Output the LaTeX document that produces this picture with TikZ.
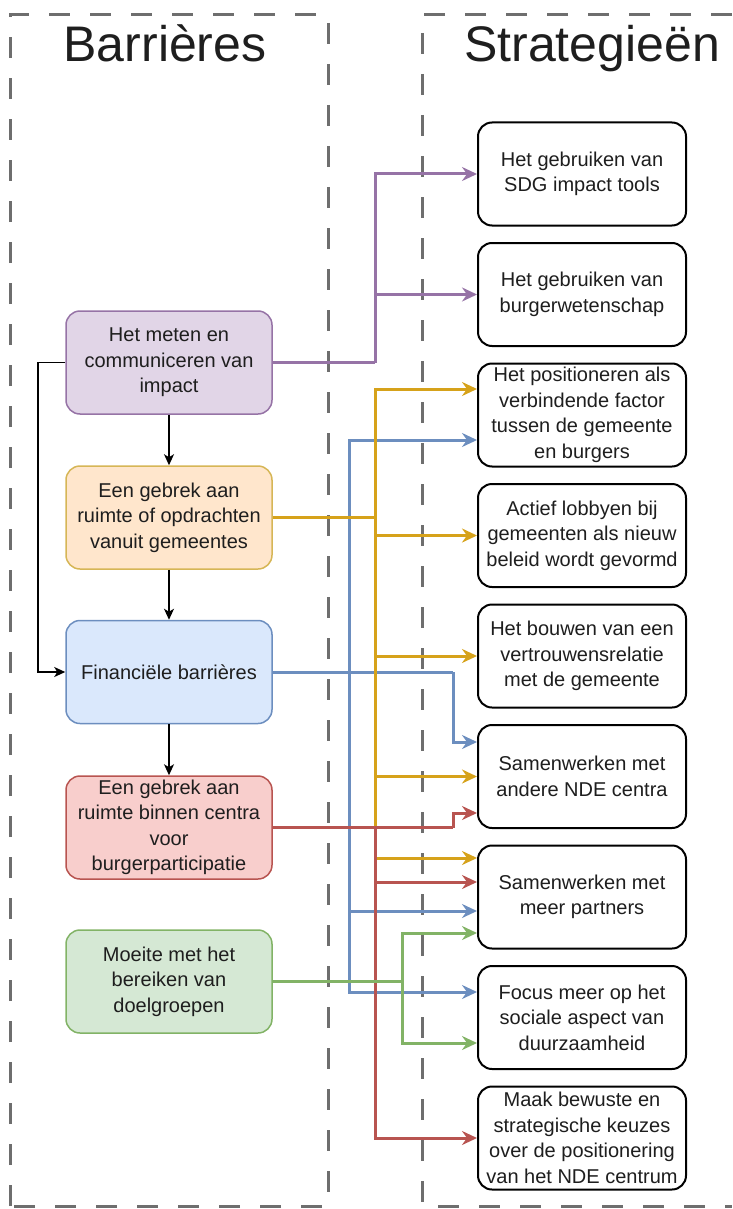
\documentclass[tikz,border=0pt]{standalone}
\usepackage{fontspec}
\setmainfont{Liberation Sans}
\usetikzlibrary{arrows.meta}

\definecolor{kadergrijs}{HTML}{6E6E6E}
\definecolor{tekst}{HTML}{1E1E1E}
\definecolor{paarsvul}{HTML}{E1D5E7}
\definecolor{paars}{HTML}{9673A6}
\definecolor{oranjevul}{HTML}{FFE6CC}
\definecolor{oranjerand}{HTML}{D6B656}
\definecolor{oranje}{HTML}{D6A21A}
\definecolor{blauwvul}{HTML}{DAE8FC}
\definecolor{blauw}{HTML}{6C8EBF}
\definecolor{roodvul}{HTML}{F8CECC}
\definecolor{rood}{HTML}{B85450}
\definecolor{groenvul}{HTML}{D5E8D4}
\definecolor{groen}{HTML}{82B366}

\begin{document}
\begin{tikzpicture}[x=1pt,y=1pt,yscale=-1,
  kader/.style={draw=kadergrijs,line width=3pt,dash pattern=on 21pt off 20pt},
  titel/.style={font=\fontsize{50}{60}\selectfont,text=tekst,anchor=base},
  barriere/.style={draw,line width=1.5pt,rounded corners=14pt,minimum width=206pt,minimum height=103pt,inner sep=0pt,align=center,font=\fontsize{20}{25.5}\selectfont,text=tekst},
  strategie/.style={barriere,draw=black,fill=white,minimum width=208pt,line width=2pt},
  pijl/.style={line width=3pt,-{Stealth[length=15pt,width=14pt,inset=5pt]}},
  lijn/.style={line width=3pt},
  zwart/.style={line width=1.5pt,-{Stealth[length=11pt,width=10pt,inset=3pt]}}
]
\useasboundingbox (0,0) rectangle (732,1209);

% kaders
\draw[kader] (10,1206) -- (10,15) -- (328,15) -- (328,1206) -- cycle;
\draw[kader] (732,15) -- (422,15) -- (422,1206) -- (732,1206);

% titels
\node[titel] (tb) at (165,62) {Barrières};
\node[titel] (ts) at (592,62) {Strategieën};

% barrieres
\node[barriere,fill=paarsvul,draw=paars] (imp) at (169,362.5) {Het meten en\\communiceren van\\impact};
\node[barriere,fill=oranjevul,draw=oranjerand] (gem) at (169,517.5) {Een gebrek aan\\ruimte of opdrachten\\vanuit gemeentes};
\node[barriere,fill=blauwvul,draw=blauw] (fin) at (169,672) {Financiële barrières};
\node[barriere,fill=roodvul,draw=rood] (cen) at (169,827.5) {Een gebrek aan\\ruimte binnen centra\\voor\\burgerparticipatie};
\node[barriere,fill=groenvul,draw=groen] (doel) at (169,981.5) {Moeite met het\\bereiken van\\doelgroepen};

% strategieen
\node[strategie] (s1) at (582,174) {Het gebruiken van\\SDG impact tools};
\node[strategie] (s2) at (582,294.5) {Het gebruiken van\\burgerwetenschap};
\node[strategie] (s3) at (582,415) {Het positioneren als\\verbindende factor\\tussen de gemeente\\en burgers};
\node[strategie] (s4) at (582,535.5) {Actief lobbyen bij\\gemeenten als nieuw\\beleid wordt gevormd};
\node[strategie] (s5) at (582,656) {Het bouwen van een\\vertrouwensrelatie\\met de gemeente};
\node[strategie] (s6) at (582,776.5) {Samenwerken met\\andere NDE centra};
\node[strategie] (s7) at (582,897) {Samenwerken met\\meer partners};
\node[strategie] (s8) at (582,1017.5) {Focus meer op het\\sociale aspect van\\duurzaamheid};
\node[strategie] (s9) at (582,1138) {Maak bewuste en\\strategische keuzes\\over de positionering\\van het NDE centrum};

% knikpunten
\coordinate (pv) at (375,362.5);
\coordinate (ov) at (375,517.5);
\coordinate (bv) at (349,672);
\coordinate (bk) at (453,672);
\coordinate (rv) at (375,827.5);
\coordinate (rk) at (453,827.5);
\coordinate (gv) at (402,981.5);
\coordinate (lk) at (38,362.5);

% zwarte pijlen
\draw[zwart] (imp) -- (gem);
\draw[zwart] (gem) -- (fin);
\draw[zwart] (fin) -- (cen);
\draw[zwart] (imp.west) -- (lk) |- (fin.west);

% blauw
\draw[lijn,blauw] (fin.east) -- (bk);
\draw[pijl,blauw] (bk) |- ([yshift=-34.5]s6.west);
\draw[pijl,blauw] (bv) |- ([yshift=25]s3.west);
\draw[pijl,blauw] (bv) |- ([yshift=14]s7.west);
\draw[pijl,blauw] (bv) |- ([yshift=-25.5]s8.west);

% paars
\draw[lijn,paars] (imp.east) -- (pv);
\draw[pijl,paars] (pv) |- (s1.west);
\draw[pijl,paars] (pv) |- (s2.west);

% oranje
\draw[lijn,oranje] (gem.east) -- (ov);
\draw[pijl,oranje] (ov) |- ([yshift=-26]s3.west);
\draw[pijl,oranje] (ov) |- (s4.west);
\draw[pijl,oranje] (ov) |- (s5.west);
\draw[pijl,oranje] (ov) |- (s6.west);
\draw[pijl,oranje] (ov) |- ([yshift=-39]s7.west);

% rood
\draw[lijn,rood] (cen.east) -- (rk);
\draw[pijl,rood] (rk) |- ([yshift=36.5]s6.west);
\draw[pijl,rood] (rv) |- ([yshift=-15]s7.west);
\draw[pijl,rood] (rv) |- (s9.west);

% groen
\draw[lijn,groen] (doel.east) -- (gv);
\draw[pijl,groen] (gv) |- ([yshift=36]s7.west);
\draw[pijl,groen] (gv) |- ([yshift=25.5]s8.west);

\end{tikzpicture}
\end{document}
